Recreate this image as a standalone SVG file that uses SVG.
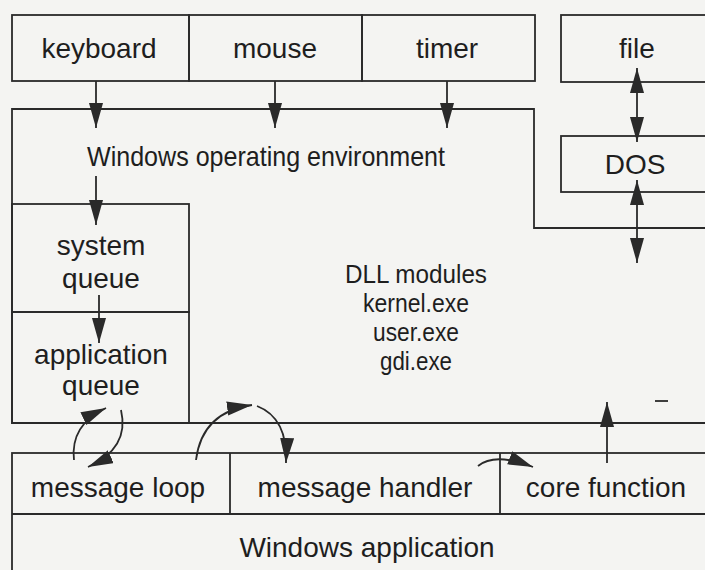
<svg xmlns="http://www.w3.org/2000/svg" width="705" height="570" viewBox="0 0 705 570">
<style>
.box{fill:none;stroke:#2a2a2a;stroke-width:1.8}
.ln{fill:none;stroke:#2a2a2a;stroke-width:1.8}
.t{font-family:"Liberation Sans",Arial,sans-serif;font-size:28px;fill:#1e1e1e;text-anchor:middle}
.d{font-size:26px}
.c{fill:none;stroke:#2a2a2a;stroke-width:1.8;marker-end:url(#ah)}
</style>
<defs>
<marker id="ah" markerUnits="userSpaceOnUse" markerWidth="28" markerHeight="16" refX="25" refY="7" orient="auto">
<path d="M0,0 L25,7 L0,14 Z" fill="#2a2a2a"/>
</marker>
<marker id="ahs" markerUnits="userSpaceOnUse" markerWidth="28" markerHeight="16" refX="25" refY="7" orient="auto-start-reverse">
<path d="M0,0 L25,7 L0,14 Z" fill="#2a2a2a"/>
</marker>
</defs>
<rect width="705" height="570" fill="#f4f4f2"/>
<g id="keyboard"><rect class="box" x="12" y="15" width="177" height="66"/><text class="t" x="99" y="58">keyboard</text></g>
<g id="mouse"><rect class="box" x="189" y="15" width="173" height="66"/><text class="t" x="275" y="58">mouse</text></g>
<g id="timer"><rect class="box" x="362" y="15" width="173" height="66"/><text class="t" x="447" y="58">timer</text></g>
<g id="file"><rect class="box" x="561" y="15" width="160" height="67"/><text class="t" x="637" y="58">file</text></g>
<g id="windows-env"><path class="box" d="M12,109 L534,109 L534,228 L720,228 L720,423 L12,423 Z"/><text class="t" x="266" y="166" textLength="358" lengthAdjust="spacingAndGlyphs">Windows operating environment</text></g>
<g id="dll"><text class="t d" x="416" y="283" textLength="142" lengthAdjust="spacingAndGlyphs">DLL modules</text><text class="t d" x="416" y="312" textLength="106" lengthAdjust="spacingAndGlyphs">kernel.exe</text><text class="t d" x="416" y="341" textLength="86" lengthAdjust="spacingAndGlyphs">user.exe</text><text class="t d" x="416" y="370" textLength="72" lengthAdjust="spacingAndGlyphs">gdi.exe</text></g>
<g id="dos"><rect class="box" x="561" y="136" width="160" height="56"/><text class="t" x="635" y="174">DOS</text></g>
<g id="system-queue"><rect class="box" x="12" y="204" width="177" height="108"/><text class="t" x="101" y="255">system</text><text class="t" x="101" y="288">queue</text></g>
<g id="application-queue"><rect class="box" x="12" y="312" width="177" height="111"/><text class="t" x="101" y="364">application</text><text class="t" x="101" y="395">queue</text></g>
<g id="windows-application"><rect class="box" x="12" y="453" width="710" height="130"/><line class="ln" x1="12" y1="514" x2="720" y2="514"/><text class="t" x="367" y="557">Windows application</text></g>
<g id="message-loop"><text class="t" x="118" y="497">message loop</text></g>
<g id="message-handler"><line class="ln" x1="230" y1="453" x2="230" y2="514"/><text class="t" x="365" y="497">message handler</text></g>
<g id="core-function"><line class="ln" x1="500" y1="453" x2="500" y2="514"/><text class="t" x="606" y="497">core function</text></g>
<g id="connectors">
<line class="c" x1="96" y1="81" x2="96" y2="128"/>
<line class="c" x1="275" y1="81" x2="275" y2="128"/>
<line class="c" x1="447" y1="81" x2="447" y2="128"/>
<line class="c" x1="96" y1="176" x2="96" y2="225"/>
<line class="c" x1="99" y1="295" x2="99" y2="343"/>
<line class="c" x1="637" y1="68" x2="637" y2="142" style="marker-start:url(#ahs)"/>
<line class="c" x1="637" y1="180" x2="637" y2="263" style="marker-start:url(#ahs)"/>
<line class="c" x1="607" y1="463" x2="607" y2="402"/>
<path class="c" d="M74,460 Q70,425 106,408"/>
<path class="c" d="M121,410 Q130,448 88,467"/>
<path class="c" d="M196,460 Q202,412 252,405"/>
<path class="c" d="M257,406 Q288,418 286,463"/>
<path class="c" d="M478,466 Q495,452 533,467"/>
</g>
<line class="ln" x1="655" y1="401" x2="668" y2="401"/>
</svg>
